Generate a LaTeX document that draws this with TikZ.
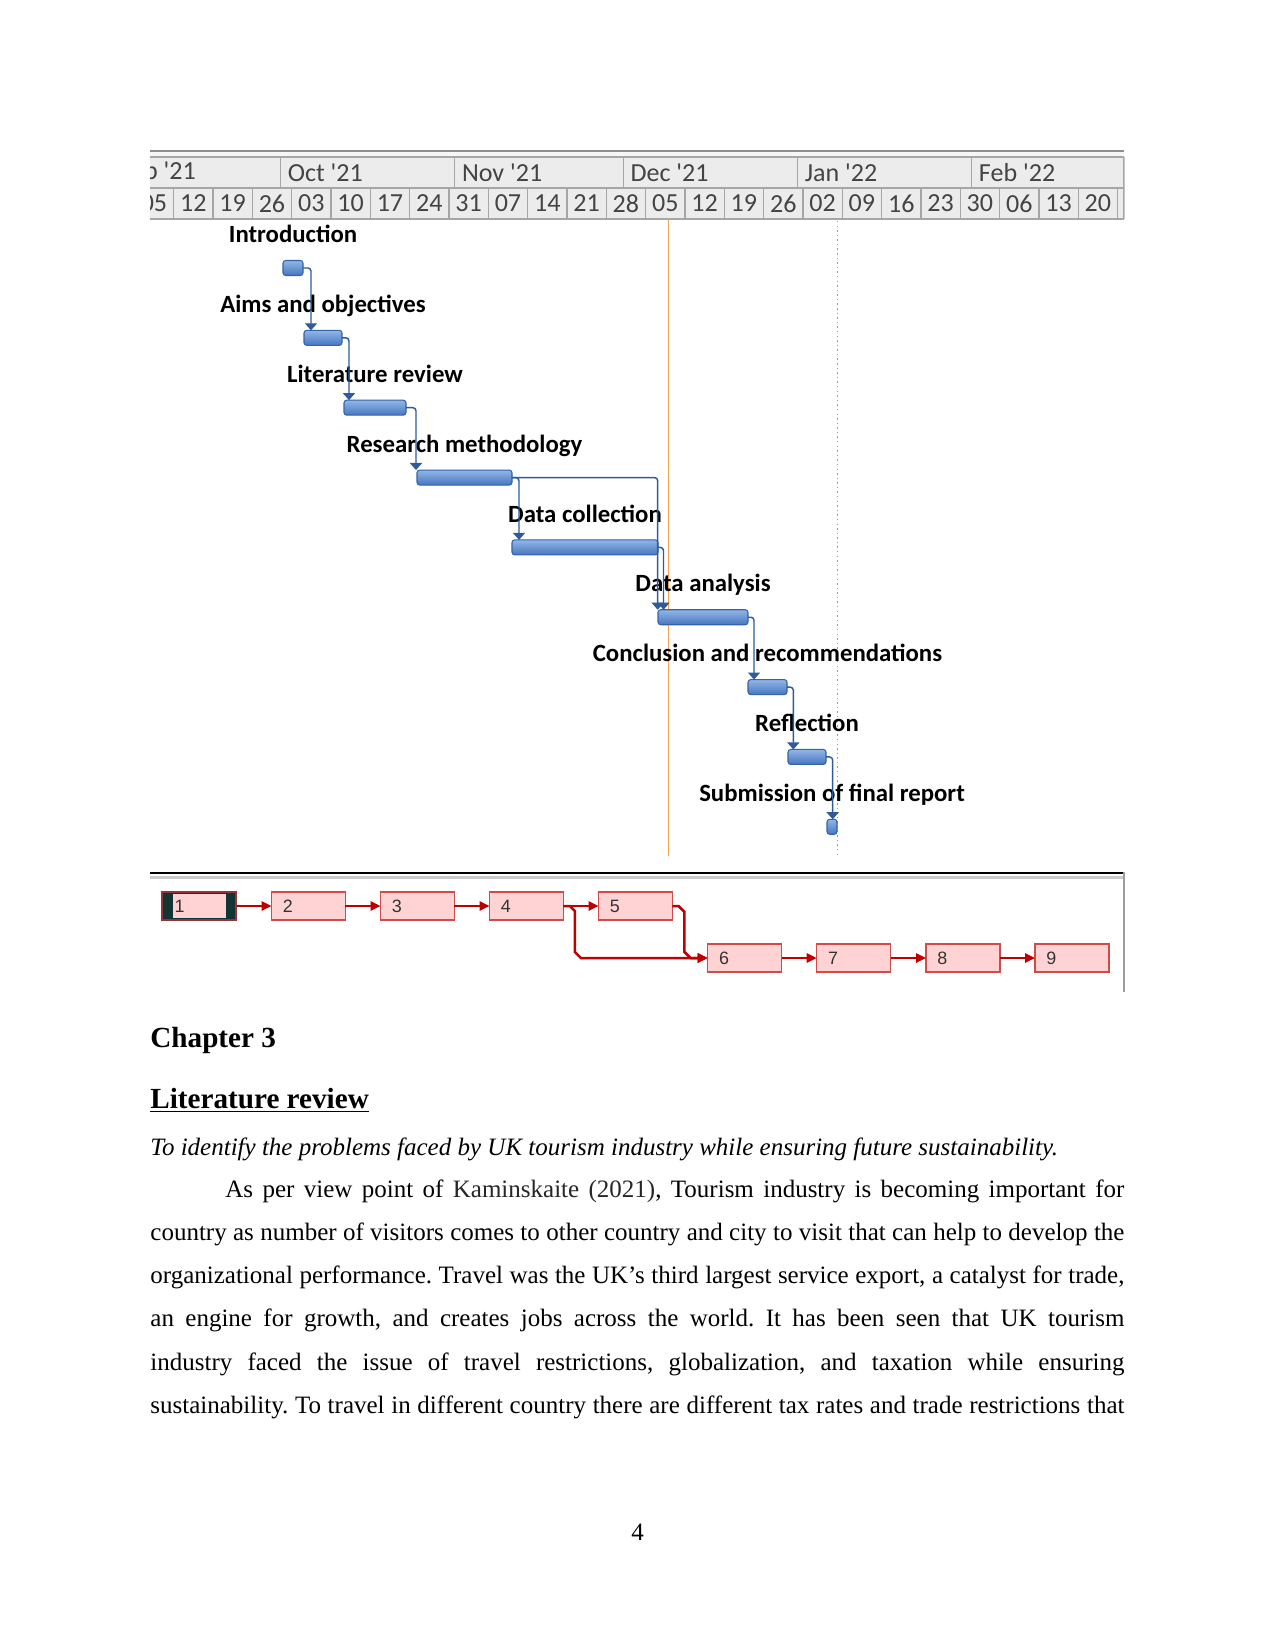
\documentclass[tikz,border=0pt]{standalone}
\usepackage{fontspec}
\setmainfont{Liberation Serif}
\newfontfamily\carl{Carlito}[Ligatures=TeXOff]
\newfontfamily\lsans{Liberation Sans}
\usetikzlibrary{arrows.meta,calc}
\definecolor{hdrfill}{HTML}{ECECEC}
\definecolor{hdrtop}{HTML}{F6F6F6}
\definecolor{hdrline}{HTML}{A6A6A6}
\definecolor{hdrtext}{HTML}{444444}
\definecolor{barline}{HTML}{3463A6}
\definecolor{bartop}{HTML}{92B6E8}
\definecolor{barbot}{HTML}{4775BE}
\definecolor{lnk}{HTML}{2F5B98}
\definecolor{todayc}{HTML}{F2A055}
\definecolor{dotc}{HTML}{9A9A9A}
\definecolor{netred}{HTML}{C00000}
\definecolor{boxfill}{HTML}{FFD3D3}
\definecolor{boxline}{HTML}{D24B4B}
\definecolor{boxdark}{HTML}{123434}
\definecolor{numc}{HTML}{333333}
\definecolor{citec}{HTML}{262626}
\tikzset{
  gbar/.style={draw=barline, line width=0.5pt, rounded corners=1.3pt,
    top color=bartop, bottom color=barbot, minimum height=7.2pt, inner sep=0pt, outer sep=0pt},
  glabel/.style={font=\carl\bfseries\fontsize{11.9}{13}\selectfont, text=black, inner sep=0pt},
  conn/.style={draw=lnk, line width=0.7pt, rounded corners=1.5pt,
    -{Triangle[width=5.8pt,length=3.4pt]}},
  hdrtxt/.style={font=\carl\fontsize{12.5}{14}\selectfont, text=hdrtext, inner sep=0pt},
  nbox/.style={draw=boxline, fill=boxfill, line width=0.6pt, minimum width=35.5pt,
    minimum height=13.4pt, inner xsep=5.5pt, inner ysep=0pt, text width=24.5pt, align=left,
    font=\lsans\fontsize{8.6}{10}\selectfont, text=numc, outer sep=0pt},
  narrow/.style={draw=netred, line width=1.2pt, -{Triangle[length=4.8pt,width=4.4pt]}},
  bodyline/.style={anchor=base west, inner sep=0pt, font=\fontsize{12}{14}\selectfont}
}
\newcommand\gbar[4]{\node[gbar, minimum width={(#3-#2)*0.48pt}] (#1) at ({(#2+#3)/2},#4) {};}
\newcommand\glab[2]{\node[glabel, anchor=base] (l#1) at ($(#1.center)+(0,-25.3)$) {#2};}
\begin{document}
\begin{tikzpicture}[x=0.48pt,y=-0.48pt]
\useasboundingbox (0,0) rectangle (1275,1650);
\fill[white] (0,0) rectangle (1275,1650);

% ---------- timescale header ----------
\begin{scope}
\clip (150,149) rectangle (1124.5,220);
\fill[hdrtop] (150,150) rectangle (1124,157);
\fill[hdrfill] (150,157) rectangle (1124,219);
\draw[hdrline, line width=0.6pt] (150,157) -- (1124,157);
\draw[hdrline, line width=0.6pt] (150,188) -- (1124,188);
\draw[hdrline, line width=0.6pt] (150,219) -- (1124,219);
\foreach \d/\lab in {-25/Sep '21, 5/Oct '21, 36/Nov '21, 66/Dec '21, 97/Jan '22, 128/Feb '22}{
  \draw[hdrline, line width=0.6pt] ({252.3+5.619*\d},157) -- ({252.3+5.619*\d},188);
  \node[hdrtxt, anchor=west] at ({252.3+5.619*\d+7},173) {\lab};
}
\foreach \k in {-2,...,22}{
  \draw[hdrline, line width=0.6pt] ({252.3+39.33*\k},188) -- ({252.3+39.33*\k},219);
}
\foreach \lab [count=\i from -3] in {05,12,19,26,03,10,17,24,31,07,14,21,28,05,12,19,26,02,09,16,23,30,06,13,20,27}{
  \node[hdrtxt] at ({252.3+39.33*(\i+0.5)},203.5) {\lab};
}
\draw[hdrline, line width=0.6pt] (1124,157) -- (1124,219);
\end{scope}
\draw[color=hdrline!85!black, line width=1.1pt] (150,151) -- (1124,151);

% ---------- status lines ----------
\draw[todayc, line width=0.85pt] (668.5,219.5) -- (668.5,856);
\draw[dotc, line width=0.7pt, dash pattern=on 0.7pt off 1.5pt] (837.3,221) -- (837.3,858);

% ---------- bars ----------
\gbar{b1}{283}{303}{268}
\gbar{b2}{304}{342}{337.85}
\gbar{b3}{344}{406}{407.7}
\gbar{b4}{417}{512}{477.55}
\gbar{b5}{512}{658}{547.4}
\gbar{b6}{658}{748}{617.25}
\gbar{b7}{748}{787}{687.1}
\gbar{b8}{788}{826}{756.95}
\gbar{b9}{827}{837}{826.8}

\glab{b1}{Introduction}
\glab{b2}{Aims and objectives}
\glab{b3}{Literature review}
\glab{b4}{Research methodology}
\glab{b5}{Data collection}
\glab{b6}{Data analysis}
\glab{b7}{Conclusion and recommendations}
\glab{b8}{Reflection}
\glab{b9}{Submission of final report}

\draw[conn] (b1.east) -| ($(b2.north west)+(7,0)$);
\draw[conn] (b2.east) -| ($(b3.north west)+(5,0)$);
\draw[conn] (b3.east) -| ($(b4.north west)+(-1,0)$);
\draw[conn] (b4.east) -| ($(b5.north west)+(7,0)$);
\draw[conn] (b4.east) -| ($(b6.north west)+(-0.3,0)$);
\draw[conn] (b5.east) -| ($(b6.north west)+(5.5,0)$);
\draw[conn] (b6.east) -| ($(b7.north west)+(6,0)$);
\draw[conn] (b7.east) -| ($(b8.north west)+(5.3,0)$);
\draw[conn] (b8.east) -| ($(b9.north west)+(5.7,0)$);

% ---------- network panel ----------
\draw[black, line width=1.4pt] (150,873) -- (1124,873);
\draw[color=black!20, line width=1pt] (150,877.5) -- (1124,877.5);
\draw[color=black!38, line width=0.8pt] (1124,872) -- (1124,992);

\node[draw=boxline!70!black, fill=boxdark, line width=0.6pt, minimum width=35.5pt, minimum height=13.4pt, inner sep=0pt] (n1) at (199,906) {};
\node[fill=boxfill, minimum width=25.7pt, minimum height=11.4pt, inner xsep=1pt, inner ysep=0pt, text width=23.7pt, align=left, font=\lsans\fontsize{8.6}{10}\selectfont, text=numc] (n1i) at (199.3,906) {1};
\node[nbox] (n2) at (308.5,906) {2};
\node[nbox] (n3) at (417.5,906) {3};
\node[nbox] (n4) at (526.5,906) {4};
\node[nbox] (n5) at (635.5,906) {5};
\node[nbox] (n6) at (744.7,958) {6};
\node[nbox] (n7) at (853.7,958) {7};
\node[nbox] (n8) at (963,958) {8};
\node[nbox] (n9) at (1072,958) {9};

\draw[narrow] (n1.east) -- (n2.west);
\draw[narrow] (n2.east) -- (n3.west);
\draw[narrow] (n3.east) -- (n4.west);
\draw[narrow] (n4.east) -- (n5.west);
\draw[narrow] (n4.east) -- ++(6.5,0) -- ++(5,5) -- ++(0,41) -- ++(6,6) -- (n6.west);
\draw[narrow] (n5.east) -- ++(6,0) -- ++(6,6) -- ++(0,40) -- ++(6,6) -- (n6.west);
\draw[narrow] (n6.east) -- (n7.west);
\draw[narrow] (n7.east) -- (n8.west);
\draw[narrow] (n8.east) -- (n9.west);

% ---------- text ----------
\node[anchor=base west, inner sep=0pt, font=\bfseries\fontsize{14}{16}\selectfont] (ch3) at (150,1047) {Chapter 3};
\node[anchor=base west, inner sep=0pt, font=\bfseries\fontsize{14}{16}\selectfont] (litrev) at (150,1108.5) {\underline{Literature review}};
\node[bodyline, font=\itshape\fontsize{12}{14}\selectfont] (aim) at (150,1155) {To identify the problems faced by UK tourism industry while ensuring future sustainability.};
\node[bodyline] (p1) at (150,1197) {\frenchspacing\hbox to 467.52pt{\hskip 36pt As per view point of \textcolor{citec}{Kaminskaite (2021)}, Tourism industry is becoming important for}};
\node[bodyline] (p2) at (150,1240.3) {\frenchspacing\hbox to 467.52pt{country as number of visitors comes to other country and city to visit that can help to develop the}};
\node[bodyline] (p3) at (150,1283.6) {\frenchspacing\hbox to 467.52pt{organizational performance. Travel was the UK's third largest service export, a catalyst for trade,}};
\node[bodyline] (p4) at (150,1326.9) {\frenchspacing\hbox to 467.52pt{an engine for growth, and creates jobs across the world. It has been seen that UK tourism}};
\node[bodyline] (p5) at (150,1370.2) {\frenchspacing\hbox to 467.52pt{industry faced the issue of travel restrictions, globalization, and taxation while ensuring}};
\node[bodyline] (p6) at (150,1413.5) {\frenchspacing\hbox to 467.52pt{sustainability. To travel in different country there are different tax rates and trade restrictions that}};
\node[anchor=base, inner sep=0pt, font=\fontsize{12}{14}\selectfont] (pg) at (637.5,1540) {4};
\end{tikzpicture}
\end{document}
